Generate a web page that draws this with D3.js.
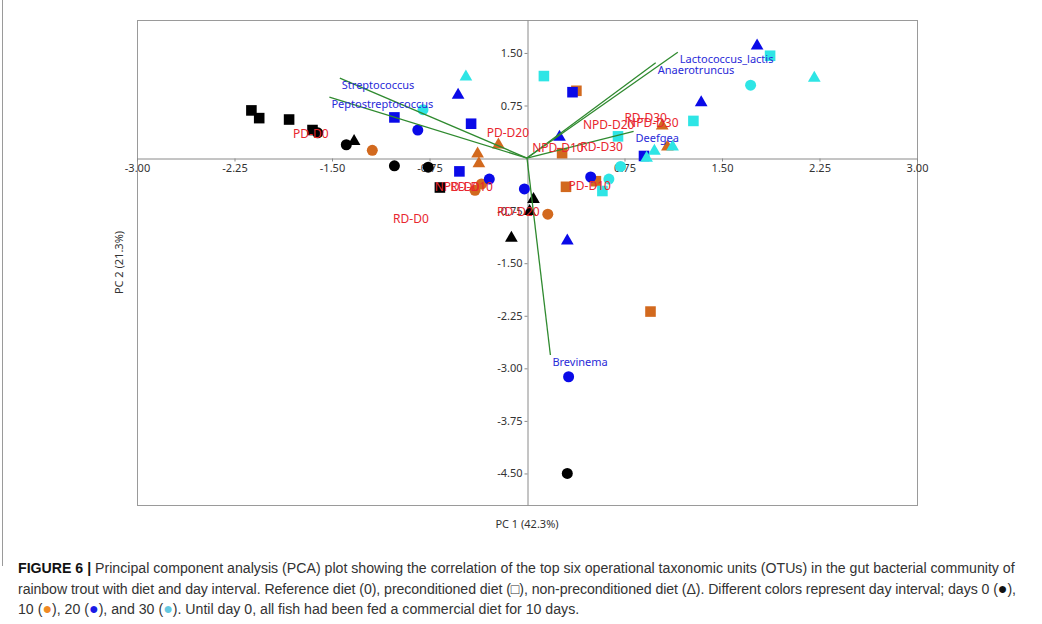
<!DOCTYPE html>
<html>
<head>
<meta charset="utf-8">
<script src="https://cdn.jsdelivr.net/npm/d3@7"></script>
<style>
  body { margin: 0; background: #fff; }
  svg { display: block; }
  .tick text { font-family: "Noto Sans", "Open Sans", sans-serif; font-size: 11px; fill: #333; }
  .axis path, .axis line { stroke: #8a8a8a; }
</style>
</head>
<body>
<div id="svg-container"></div>
<script>
// samples: [pc1, pc2, diet, day]  diet: RD = reference, PD = preconditioned, NPD = non-preconditioned
var samples = [
  [-2.12, 0.68, "PD", 0], [-2.06, 0.57, "PD", 0], [-1.83, 0.55, "PD", 0], [-1.65, 0.40, "PD", 0], [-0.67, -0.42, "PD", 0],
  [-1.61, 0.36, "RD", 0], [-1.39, 0.19, "RD", 0], [-1.02, -0.11, "RD", 0], [-0.76, -0.13, "RD", 0], [0.31, -4.50, "RD", 0],
  [-1.33, 0.24, "NPD", 0], [0.05, -0.59, "NPD", 0], [0.02, -0.76, "NPD", 0], [-0.12, -1.14, "NPD", 0],
  [-1.19, 0.11, "RD", 10], [-0.40, -0.46, "RD", 10], [-0.35, -0.37, "RD", 10], [0.16, -0.80, "RD", 10],
  [-0.22, 0.19, "NPD", 10], [-0.38, 0.06, "NPD", 10], [-0.37, -0.08, "NPD", 10], [1.04, 0.46, "NPD", 10], [1.08, 0.16, "NPD", 10],
  [0.38, 0.96, "PD", 10], [0.27, 0.07, "PD", 10], [0.30, -0.41, "PD", 10], [0.95, -2.19, "PD", 10], [0.53, -0.33, "PD", 10],
  [-1.02, 0.58, "PD", 20], [-0.43, 0.49, "PD", 20], [-0.52, -0.19, "PD", 20], [0.35, 0.94, "PD", 20], [0.90, 0.03, "PD", 20],
  [-0.84, 0.40, "RD", 20], [-0.29, -0.30, "RD", 20], [-0.02, -0.44, "RD", 20], [0.49, -0.27, "RD", 20], [0.32, -3.12, "RD", 20],
  [-0.53, 0.90, "NPD", 20], [0.25, 0.30, "NPD", 20], [1.77, 1.60, "NPD", 20], [1.34, 0.79, "NPD", 20], [0.31, -1.18, "NPD", 20],
  [0.13, 1.17, "PD", 30], [0.70, 0.31, "PD", 30], [1.28, 0.53, "PD", 30], [1.87, 1.46, "PD", 30], [0.58, -0.47, "PD", 30],
  [-0.80, 0.69, "RD", 30], [1.72, 1.04, "RD", 30], [0.72, -0.12, "RD", 30], [0.63, -0.30, "RD", 30],
  [-0.47, 1.16, "NPD", 30], [2.21, 1.14, "NPD", 30], [0.98, 0.10, "NPD", 30], [1.12, 0.16, "NPD", 30], [0.92, 0.00, "NPD", 30]
];

// top six OTU loadings
var otuNames = ["Streptococcus", "Peptostreptococcus", "Lactococcus_lactis", "Anaerotruncus", "Deefgea", "Brevinema"];
var otuPc1 = [-1.44, -1.52, 1.16, 0.99, 0.82, 0.18];
var otuPc2 = [1.14, 0.87, 1.51, 1.36, 0.38, -2.81];

// group centroid labels
var groupNames = ["PD-D0", "PD-D20", "NPD-D0", "RD-D10", "RD-D0", "PD-D10", "NPD-D10", "RD-D30", "NPD-D20", "PD-D30", "NPD-D30", "RD-D20"];
var groupPc1 = [-1.80, -0.31, -0.71, -0.59, -1.03, 0.32, 0.04, 0.41, 0.43, 0.75, 0.77, -0.23];
var groupPc2 = [0.34, 0.36, -0.41, -0.41, -0.86, -0.40, 0.14, 0.16, 0.47, 0.58, 0.51, -0.76];

var xTicks = [-3, -2.25, -1.5, -0.75, 0.75, 1.5, 2.25, 3];
var yTicks = [1.5, 0.75, -0.75, -1.5, -2.25, -3, -3.75, -4.5];

var W = 1042, H = 624;
var plot = { left: 137, right: 917, top: 20, bottom: 505 };

var svg = d3.select("#svg-container").append("svg")
  .attr("width", W).attr("height", H);

// figure border (left edge)
svg.append("line")
  .attr("x1", 2.5).attr("x2", 2.5).attr("y1", 0).attr("y2", 566)
  .attr("stroke", "#9a9a9a");

var x = d3.scaleLinear().domain([-3, 3]).range([plot.left, plot.right]);
var y = d3.scaleLinear().domain([-4.95, 1.97]).range([plot.bottom, plot.top]);

var fmt = function (d) { return d.toFixed(2); };

// frame
svg.append("rect")
  .attr("x", plot.left + 0.5).attr("y", plot.top + 0.5)
  .attr("width", plot.right - plot.left).attr("height", plot.bottom - plot.top)
  .attr("fill", "none").attr("stroke", "#9a9a9a");

svg.append("g")
  .attr("class", "x axis")
  .attr("transform", "translate(0," + (Math.round(y(0)) + 0.5) + ")")
  .call(d3.axisBottom(x).tickValues(xTicks).tickFormat(fmt).tickSize(3).tickSizeOuter(0));

svg.append("g")
  .attr("class", "y axis")
  .attr("transform", "translate(" + (Math.round(x(0)) + 0.5) + ",0)")
  .call(d3.axisLeft(y).tickValues(yTicks).tickFormat(fmt).tickSize(3).tickSizeOuter(0).tickPadding(2));

// axis titles
svg.append("text")
  .attr("x", x(0)).attr("y", 528)
  .attr("text-anchor", "middle")
  .style("font-family", "Noto Sans, sans-serif").style("font-size", "11px").style("fill", "#333")
  .text("PC 1 (42.3%)");

svg.append("text")
  .attr("transform", "translate(123," + (plot.top + plot.bottom) / 2 + ") rotate(-90)")
  .attr("text-anchor", "middle")
  .style("font-family", "Noto Sans, sans-serif").style("font-size", "11px").style("fill", "#333")
  .text("PC 2 (21.3%)");

// markers
var dayColor = d3.scaleOrdinal().domain([0, 10, 20, 30]).range(["#000000", "#d2691e", "#0a0ae8", "#2ee5e5"]);
var dietShape = { RD: d3.symbolCircle, PD: d3.symbolSquare, NPD: d3.symbolTriangle };
var dietSize = { RD: 95, PD: 112, NPD: 70 };

svg.append("g").attr("class", "nodes")
  .selectAll("path")
  .data(samples)
  .enter().append("path")
  .attr("transform", function (d) { return "translate(" + x(d[0]) + "," + y(d[1]) + ")"; })
  .attr("d", function (d) { return d3.symbol().type(dietShape[d[2]]).size(dietSize[d[2]])(); })
  .attr("fill", function (d) { return dayColor(d[3]); });

// OTU vectors
var otus = otuNames.map(function (n, i) { return { name: n, pc1: otuPc1[i], pc2: otuPc2[i] }; });

svg.append("g").attr("class", "arcs")
  .selectAll("line")
  .data(otus)
  .enter().append("line")
  .attr("x1", x(0)).attr("y1", y(0))
  .attr("x2", function (d) { return x(d.pc1); })
  .attr("y2", function (d) { return y(d.pc2); })
  .attr("stroke", "#2f8a2f").attr("stroke-width", 1.3);

svg.append("g")
  .selectAll("text")
  .data(otus)
  .enter().append("text")
  .attr("x", function (d) { return x(d.pc1) + 2; })
  .attr("y", function (d) { return y(d.pc2) + 7; })
  .attr("dy", "0.35em")
  .style("font-family", "Noto Sans, sans-serif").style("font-size", "11px").style("fill", "#2a2ad8")
  .text(function (d) { return d.name; });

// group labels
svg.append("g")
  .selectAll("text")
  .data(groupNames)
  .enter().append("text")
  .attr("x", function (d, i) { return x(groupPc1[i]); })
  .attr("y", function (d, i) { return y(groupPc2[i]); })
  .attr("dy", "0.35em")
  .style("font-family", "Noto Sans, sans-serif").style("font-size", "12px").style("fill", "#e8262e")
  .text(function (d) { return d; });

// caption
var cap = svg.append("g")
  .style("font-family", "Liberation Sans, Arial, sans-serif").style("font-size", "14.15px").style("fill", "#333");

function dot(sel, color) {
  sel.append("tspan").style("fill", color).style("font-size", "16px").text("\u25CF");
}

var l1 = cap.append("text").attr("x", 18).attr("y", 573);
l1.append("tspan").style("font-weight", "bold").style("fill", "#111").text("FIGURE 6 |");
l1.append("tspan").text(" Principal component analysis (PCA) plot showing the correlation of the top six operational taxonomic units (OTUs) in the gut bacterial community of");

var l2 = cap.append("text").attr("x", 18).attr("y", 594)
  .attr("textLength", 998).attr("lengthAdjust", "spacing");
l2.append("tspan").text("rainbow trout with diet and day interval. Reference diet (0), preconditioned diet (\u25A1), non-preconditioned diet (\u0394). Different colors represent day interval; days 0 (");
dot(l2, "#111");
l2.append("tspan").text("),");

var l3 = cap.append("text").attr("x", 18).attr("y", 614);
l3.append("tspan").text("10 (");
dot(l3, "#f08a24");
l3.append("tspan").text("), 20 (");
dot(l3, "#1a1ae6");
l3.append("tspan").text("), and 30 (");
dot(l3, "#66c8e0");
l3.append("tspan").text("). Until day 0, all fish had been fed a commercial diet for 10 days.");
</script>
</body>
</html>
